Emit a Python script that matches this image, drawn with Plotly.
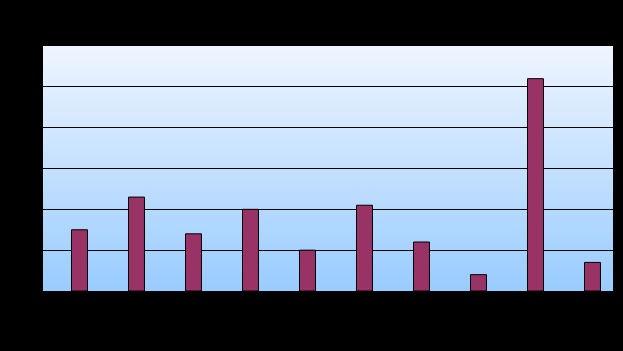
import base64
import struct
import zlib
import plotly.graph_objects as go

categories = ["1", "2", "3", "4", "5", "6", "7", "8", "9", "10"]
values = [15, 23, 14, 20, 10, 21, 12, 4, 52, 7]
y_ticks = [0, 10, 20, 30, 40, 50, 60]


def gradient_png(top, bot, h=256, w=4):
    rows = b""
    for i in range(h):
        t = i / (h - 1)
        c = bytes(round(top[k] + (bot[k] - top[k]) * t) for k in range(3))
        rows += b"\x00" + c * w

    def chunk(tag, data):
        return (struct.pack(">I", len(data)) + tag + data
                + struct.pack(">I", zlib.crc32(tag + data) & 0xFFFFFFFF))

    png = (b"\x89PNG\r\n\x1a\n"
           + chunk(b"IHDR", struct.pack(">IIBBBBB", w, h, 8, 2, 0, 0, 0))
           + chunk(b"IDAT", zlib.compress(rows))
           + chunk(b"IEND", b""))
    return "data:image/png;base64," + base64.b64encode(png).decode()


fig = go.Figure()
fig.add_trace(go.Bar(
    x=list(range(len(categories))), y=values,
    width=0.28,
    marker=dict(color="#993366", line=dict(color="#000000", width=1)),
))

fig.update_layout(
    width=623, height=351,
    margin=dict(l=43, r=10, t=46, b=60),
    paper_bgcolor="#000000", plot_bgcolor="#000000",
    showlegend=False,
    images=[dict(
        source=gradient_png((0xEF, 0xF5, 0xFF), (0x99, 0xCC, 0xFF)),
        xref="paper", yref="paper", x=0, y=1, sizex=1, sizey=1,
        sizing="stretch", xanchor="left", yanchor="top", layer="below",
    )],
    xaxis=dict(range=[-0.64, 9.36], tickvals=list(range(10)), ticktext=categories,
               showgrid=False, zeroline=False, tickfont=dict(color="#000000")),
    yaxis=dict(range=[0, 60], tickvals=y_ticks, showgrid=True, gridcolor="#000000",
               gridwidth=1, zeroline=False, tickfont=dict(color="#000000")),
)
fig.write_html("out.html")
